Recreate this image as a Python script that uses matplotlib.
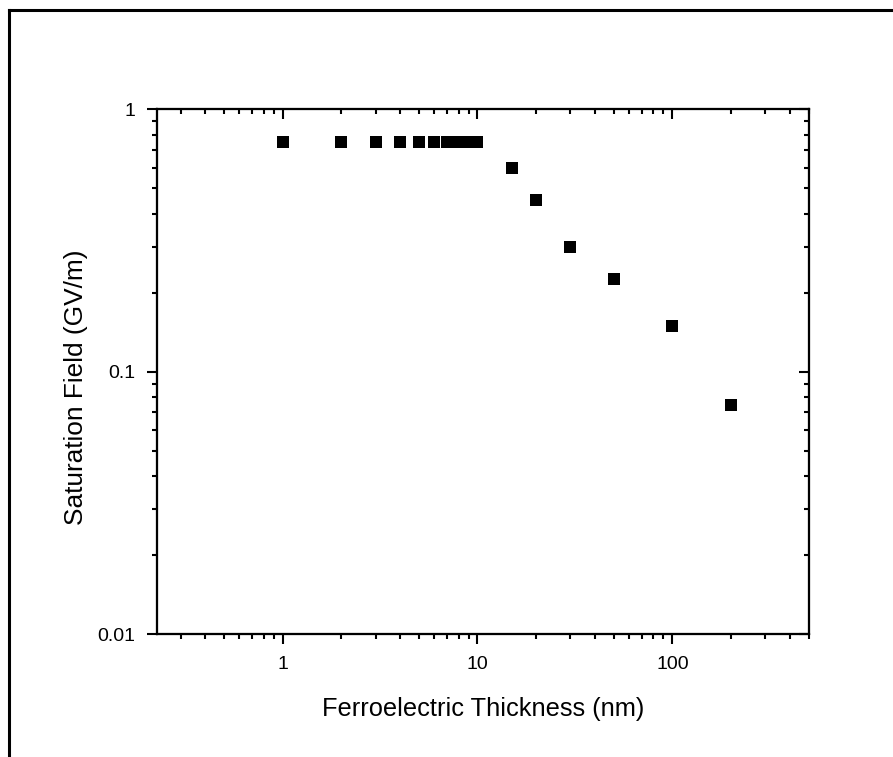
import matplotlib
matplotlib.use("Agg")
import matplotlib.pyplot as plt
from matplotlib.lines import Line2D
from matplotlib.ticker import LogLocator, NullFormatter, FixedLocator, FixedFormatter

plt.rcParams['font.family'] = ['Liberation Sans', 'DejaVu Sans']

thickness = [1, 2, 3, 4, 5, 6, 7, 8, 9, 10, 15, 20, 30, 50, 100, 200]
field = [0.75, 0.75, 0.75, 0.75, 0.75, 0.75, 0.75, 0.75, 0.75, 0.75,
         0.60, 0.45, 0.30, 0.225, 0.15, 0.075]
x_ticks = [1, 10, 100]
x_ticklabels = ["1", "10", "100"]
y_ticks = [0.01, 0.1, 1]
y_ticklabels = ["0.01", "0.1", "1"]

fig = plt.figure(figsize=(8.93, 7.57), dpi=100)
ax = fig.add_axes([157/893, 1-634.3/757, (808.5-157)/893, (634.3-109.3)/757])

ax.plot(thickness, field, linestyle='none', marker='s', markersize=8.6,
        color='black', markeredgewidth=0)
ax.set_xscale('log')
ax.set_yscale('log')
xlim = (0.2265, 500)
ylim = (0.01, 1)
ax.set_xlim(*xlim)
ax.set_ylim(*ylim)

ax.xaxis.set_major_locator(FixedLocator(x_ticks))
ax.xaxis.set_major_formatter(FixedFormatter(x_ticklabels))
ax.yaxis.set_major_locator(FixedLocator(y_ticks))
ax.yaxis.set_major_formatter(FixedFormatter(y_ticklabels))
ax.xaxis.set_minor_locator(LogLocator(base=10, subs=range(2, 10), numticks=20))
ax.yaxis.set_minor_locator(LogLocator(base=10, subs=range(2, 10), numticks=20))
ax.xaxis.set_minor_formatter(NullFormatter())
ax.yaxis.set_minor_formatter(NullFormatter())

for s in ax.spines.values():
    s.set_linewidth(1.5)
ax.tick_params(which='major', direction='out', length=7, width=1.5,
               labelsize=14, pad=8.5, top=False, right=False)
ax.tick_params(which='minor', direction='out', length=3.8, width=1.5,
               top=False, right=False)

ax.set_xlabel("Ferroelectric Thickness (nm)", fontsize=18.3, labelpad=17.5)
ax.set_ylabel("Saturation Field (GV/m)", fontsize=18.9)
ax.yaxis.set_label_coords(-0.106, 0.47)

# mirrored inward ticks on top and right
axt = ax.twiny()
axt.set_xscale('log')
axt.set_xlim(*xlim)
axt.xaxis.set_major_locator(FixedLocator(x_ticks))
axt.xaxis.set_minor_locator(LogLocator(base=10, subs=range(2, 10), numticks=20))
axt.tick_params(axis='x', which='major', direction='in', length=7, width=1.5,
                labeltop=False, top=True)
axt.tick_params(axis='x', which='minor', direction='in', length=3.8, width=1.5,
                labeltop=False, top=True)
axt.xaxis.set_major_formatter(NullFormatter())
axt.xaxis.set_minor_formatter(NullFormatter())

axr = ax.twinx()
axr.set_yscale('log')
axr.set_ylim(*ylim)
axr.yaxis.set_major_locator(FixedLocator(y_ticks))
axr.yaxis.set_minor_locator(LogLocator(base=10, subs=range(2, 10), numticks=20))
axr.tick_params(axis='y', which='major', direction='in', length=7, width=1.5,
                labelright=False, right=True)
axr.tick_params(axis='y', which='minor', direction='in', length=3.8, width=1.5,
                labelright=False, right=True)
axr.yaxis.set_major_formatter(NullFormatter())
axr.yaxis.set_minor_formatter(NullFormatter())
for a in (axt, axr):
    for s in a.spines.values():
        s.set_linewidth(1.5)

# partial outer frame (top and left edges)
fig.add_artist(Line2D([8.5/893, 8.5/893], [0, 1-10/757], transform=fig.transFigure,
                      color='black', linewidth=2.2))
fig.add_artist(Line2D([8.5/893, 1], [1-10/757, 1-10/757], transform=fig.transFigure,
                      color='black', linewidth=2.2))

fig.savefig("out.png", dpi=100)
